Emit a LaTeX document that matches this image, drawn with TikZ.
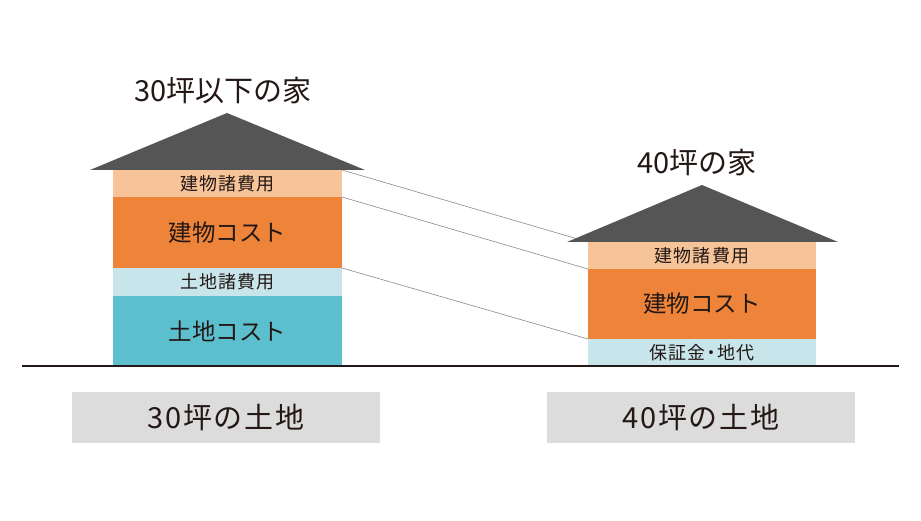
\documentclass[tikz,border=0pt]{standalone}
\usepackage{fontspec}
\setmainfont{Noto Sans CJK JP}
\newfontfamily\spacedf[LetterSpace=6]{Noto Sans CJK JP}
\definecolor{roofc}{HTML}{555555}
\definecolor{peach}{HTML}{F7C49A}
\definecolor{orangec}{HTML}{EE843A}
\definecolor{lblue}{HTML}{C7E5EA}
\definecolor{teal}{HTML}{5CBFCD}
\definecolor{boxgray}{HTML}{DCDCDC}
\definecolor{txt}{HTML}{231815}
\definecolor{conn}{HTML}{8A8A8A}
\begin{document}
\begin{tikzpicture}[x=1pt,y=-1pt,
  layer/.style={anchor=north west,inner sep=0pt,outer sep=0pt,minimum width=229pt,text=txt},
  small/.style={font=\spacedf\fontsize{18}{18}\selectfont},
  big/.style={font=\fontsize{23.5}{23.5}\selectfont},
  title/.style={inner sep=0pt,text=txt,font=\fontsize{29}{29}\selectfont},
  landbox/.style={fill=boxgray,inner sep=0pt,minimum width=308pt,minimum height=51pt,text=txt,font=\spacedf\fontsize{29}{29}\selectfont},
  connline/.style={draw=conn,line width=0.6pt},
  roofstyle/.style={fill=roofc},
  ground/.style={draw=txt,line width=2pt}]
\useasboundingbox (0,0) rectangle (921,521);
% left house
\node[layer,small,fill=peach,minimum height=27pt] (l1) at (113,170) {建物諸費用};
\node[layer,big,fill=orangec,minimum height=71pt] (l2) at (113,197) {建物コスト};
\node[layer,small,fill=lblue,minimum height=28pt] (l3) at (113,268) {土地諸費用};
\node[layer,big,fill=teal,minimum height=70pt] (l4) at (113,296) {土地コスト};
% right house
\node[layer,small,fill=peach,minimum height=27pt,minimum width=228pt] (r1) at (588,242) {建物諸費用};
\node[layer,big,fill=orangec,minimum height=70pt,minimum width=228pt] (r2) at (588,269) {建物コスト};
\node[layer,small,fill=lblue,minimum height=27pt,minimum width=228pt] (r3) at (588,339) {保証金\kern-3pt・\kern-3pt地代};
% connectors
\draw[connline] (l1.north east) -- (r1.north west);
\draw[connline] (l2.north east) -- (r2.north west);
\draw[connline] (l3.north east) -- (r3.north west);
% roofs
\fill[roofstyle] (90,170) -- (227,113) -- (365,170) -- cycle;
\fill[roofstyle] (567,242) -- (702,185) -- (838,242) -- cycle;
% titles
\node[title] (t1) at (223,91) {30坪以下の家};
\node[title] (t2) at (697,163) {40坪の家};
% ground
\draw[ground] (22,366) -- (899,366);
% land boxes
\node[landbox] (b1) at (226,417.5) {30坪の土地};
\node[landbox] (b2) at (701,417.5) {40坪の土地};
\end{tikzpicture}
\end{document}
